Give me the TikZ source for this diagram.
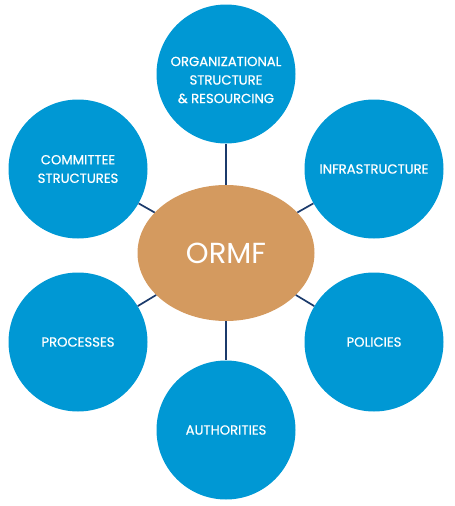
\documentclass[tikz,border=0pt]{standalone}
\usepackage{fontspec}
\setmainfont{Poppins}
\newfontfamily\petalfont[FakeBold=0.7]{Poppins}
\usetikzlibrary{shapes.geometric}
\definecolor{petal}{HTML}{0098D4}
\definecolor{hub}{HTML}{D49A5F}
\definecolor{link}{HTML}{1B3A6B}
\tikzset{
  petaltext/.style={text=white, align=center, inner sep=0pt, font=\petalfont\fontsize{13.2}{18.5}\selectfont},
  petalnode/.style={circle, fill=petal, draw=none, minimum size=139pt, inner sep=0pt, petaltext},
  hubnode/.style={ellipse, fill=hub, draw=none, minimum width=177pt, minimum height=136pt,
    inner sep=0pt, text=white, font=\fontsize{29}{32}\selectfont},
  linkline/.style={draw=link, line width=1.7pt}
}
\begin{document}
\begin{tikzpicture}[x=1pt,y=-1pt]
\useasboundingbox (0,0) rectangle (455,506);
\node[hubnode] (hub) at (226,253) {ORMF};
\node[petalnode, label={[petaltext, yshift=-6pt]center:{ORGANIZATIONAL\\STRUCTURE\\\& RESOURCING}}] (top) at (226,74) {};
\node[petalnode] (tr) at (374,169) {INFRASTRUCTURE};
\node[petalnode] (br) at (374,342) {POLICIES};
\node[petalnode] (bot) at (226,430) {AUTHORITIES};
\node[petalnode] (bl) at (78,342) {PROCESSES};
\node[petalnode] (tl) at (78,169) {COMMITTEE\\STRUCTURES};
\foreach \n in {top,tr,br,bot,bl,tl}{
  \draw[linkline] (hub) -- (\n);
}
\end{tikzpicture}
\end{document}
